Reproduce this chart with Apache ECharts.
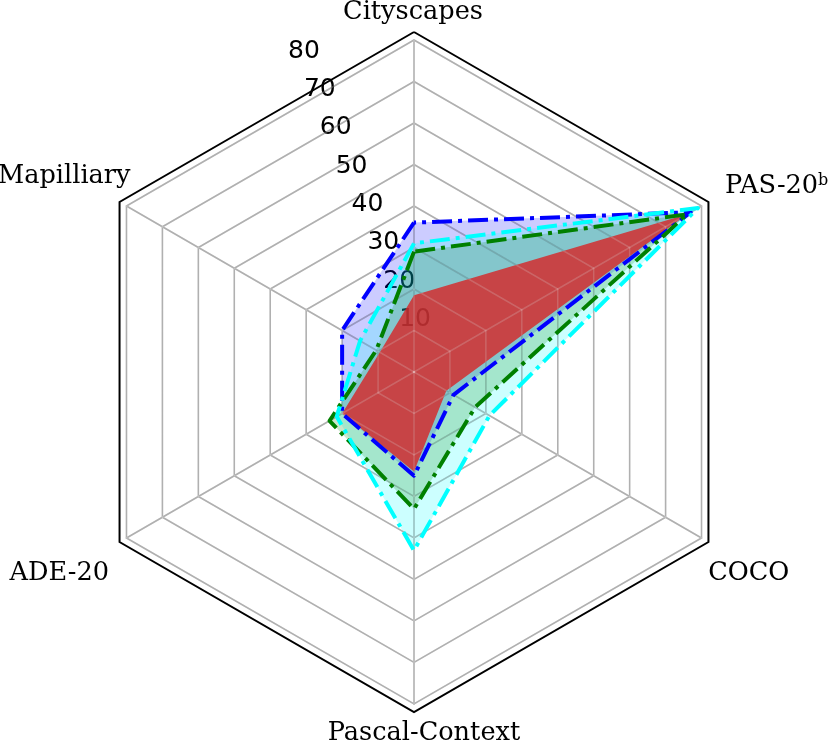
<!DOCTYPE html>
<html>
<head>
<meta charset="utf-8">
<script src="https://cdn.jsdelivr.net/npm/echarts@6/dist/echarts.min.js"></script>
<style>
  html, body { margin: 0; padding: 0; background: #fff; }
  #chart { width: 830px; height: 741px; }
</style>
</head>
<body>
<div id="chart"></div>
<script>
// indicator names, counter-clockwise from the top
const datasetNames = ['Cityscapes', 'Mapilliary', 'ADE-20', 'Pascal-Context', 'COCO', 'PAS-20{sup|b}']
const tickValues = [10, 20, 30, 40, 50, 60, 70, 80]
const axisMax = 80

// series values, same order as datasetNames
const blueVals = [36, 20, 20, 25, 11, 77]
const cyanVals = [31, 15, 21.5, 43, 21, 79]
const greenVals = [29, 10.5, 23.5, 33, 17, 76]
const redVals = [18.5, 9.5, 20, 24, 9, 76]

const chart = echarts.init(document.getElementById('chart'))

const center = [414, 372]
const dashDot = [20, 6, 4, 6]
// pixel nudges for the axis names (matplotlib centres them off the frame)
const nameOffsets = [[-1, -19], [-55, -26], [-60, 31], [10, 21], [40, 31], [68, -16]]

// fills first, lines on top (like matplotlib)
const fills = [
  { value: blueVals, color: '#0000ff', opacity: 0.2 },
  { value: cyanVals, color: '#00ffff', opacity: 0.2 },
  { value: greenVals, color: '#008000', opacity: 0.2 },
  { value: redVals, color: '#d62728', opacity: 0.82 }
]
const lines = [
  { value: blueVals, color: '#0000ff' },
  { value: greenVals, color: '#008000' },
  { value: cyanVals, color: '#00ffff' }
]

const indicators = datasetNames.map((n) => ({ name: n, min: 0, max: axisMax }))
const gridRadar = (radius, splitNumber, color, width, z) => ({
  center: center,
  radius: radius,
  z: z,
  shape: 'polygon',
  splitNumber: splitNumber,
  indicator: indicators,
  axisName: { show: false },
  splitArea: { show: false },
  splitLine: { lineStyle: { color: color, width: width } },
  axisLine: { show: splitNumber > 1, lineStyle: { color: color, width: width } },
  axisTick: { show: false },
  axisLabel: { show: false }
})

const textLabel = {
  show: true,
  position: 'inside',
  color: '#000',
  opacity: 1,
  textBorderWidth: 0
}

const option = {
  animation: false,
  polar: { center: center, radius: 332 },
  angleAxis: { type: 'value', min: 0, max: 360, startAngle: 0, clockwise: false, show: false },
  radiusAxis: { type: 'value', min: 0, max: axisMax, show: false },
  radar: [
    gridRadar(332, 8, '#9a9a9a', 1.5, 0),
    gridRadar(340, 1, '#000', 2, 0),
    // light copy of the grid above the fills
    gridRadar(332, 8, 'rgba(255,255,255,0.22)', 1.5, 2.5)
  ],
  series: [
    {
      // tick labels along a ray, like matplotlib's rlabels
      type: 'scatter',
      coordinateSystem: 'polar',
      z: 1,
      silent: true,
      clip: false,
      symbolSize: 0,
      itemStyle: { opacity: 1 },
      data: tickValues.map((v) => [v, 112.5]),
      label: {
        ...textLabel,
        offset: [17, -14],
        formatter: (p) => String(p.value[0]),
        fontFamily: 'DejaVu Sans',
        fontSize: 25
      }
    },
    {
      // axis names
      type: 'scatter',
      coordinateSystem: 'polar',
      z: 4,
      silent: true,
      clip: false,
      symbolSize: 0,
      itemStyle: { opacity: 1 },
      data: datasetNames.map((n, i) => ({
        value: [82, 90 + i * 60],
        name: n,
        label: { offset: nameOffsets[i] }
      })),
      label: {
        ...textLabel,
        formatter: (p) => p.name,
        fontFamily: 'DejaVu Serif',
        fontSize: 25.6,
        rich: {
          sup: { fontFamily: 'DejaVu Serif', fontSize: 16, color: '#000', verticalAlign: 'top' }
        }
      }
    },
    {
      type: 'radar',
      radarIndex: 0,
      z: 2,
      silent: true,
      symbol: 'none',
      data: fills.map((f) => ({
        value: f.value,
        lineStyle: { opacity: 0 },
        areaStyle: { color: f.color, opacity: f.opacity }
      }))
    },
    {
      type: 'radar',
      radarIndex: 0,
      z: 3,
      silent: true,
      symbol: 'none',
      data: lines.map((l) => ({
        value: l.value,
        lineStyle: { color: l.color, width: 4, type: dashDot }
      }))
    }
  ]
}

chart.setOption(option)
</script>
</body>
</html>
